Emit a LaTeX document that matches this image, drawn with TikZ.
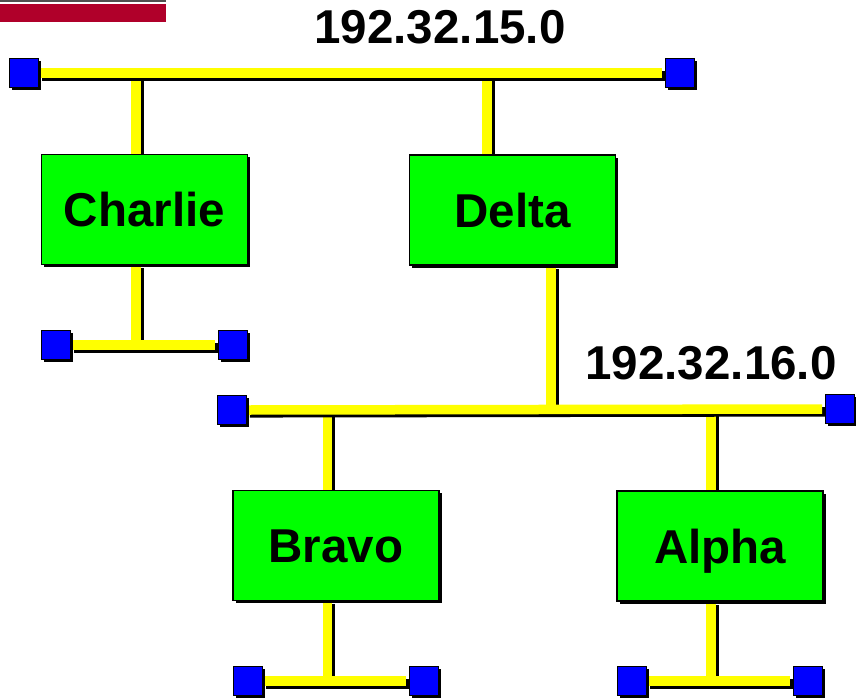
\documentclass[tikz,border=0pt]{standalone}
\usepackage{fontspec}
\setmainfont{Liberation Sans}
\usetikzlibrary{shadows}
\definecolor{busyellow}{HTML}{FFFF00}
\definecolor{boxgreen}{HTML}{00FF00}
\definecolor{termblue}{HTML}{0000FF}
\definecolor{barred}{HTML}{B0002A}
\definecolor{bargray}{HTML}{505050}
\tikzset{
  hostbox/.style={draw=black, line width=1.5pt, fill=boxgreen, minimum width=206pt, minimum height=110pt,
    inner sep=0pt, text height=34pt, text depth=0pt, font=\fontsize{47.5}{56}\selectfont\bfseries,
    drop shadow={shadow xshift=2.5pt, shadow yshift=-2.5pt, fill=black, opacity=1}},
  term/.style={draw=black, line width=1pt, fill=termblue, minimum size=29pt, inner sep=0pt,
    drop shadow={shadow xshift=2pt, shadow yshift=-2pt, fill=black, opacity=1}},
  netlabel/.style={anchor=base, inner sep=0pt, font=\fontsize{47.5}{56}\selectfont\bfseries},
  wireshadow/.style={line width=9.5pt, black, transform canvas={shift={(2.8,2.8)}}},
  wire/.style={line width=9.5pt, busyellow},
}
\pgfdeclarelayer{wires}
\pgfsetlayers{wires,main}
\begin{document}
\begin{tikzpicture}[x=1pt, y=-1pt]
\useasboundingbox (0,0) rectangle (856,699);
% header bar
\fill[bargray] (0,0) rectangle (166,2);
\fill[barred] (0,4) rectangle (166,22);

% hosts
\node[hostbox] (charlie) at (144.5,209.5) {Charlie};
\node[hostbox] (delta) at (512.5,210) {Delta};
\node[hostbox] (bravo) at (336,545.5) {Bravo};
\node[hostbox] (alpha) at (720,546) {Alpha};

% terminators
\node[term] (t1a) at (24,73) {};
\node[term] (t1b) at (680,73) {};
\node[term] (c1) at (56,345) {};
\node[term] (c2) at (233,345) {};
\node[term] (t2a) at (232,410) {};
\node[term] (t2b) at (840,409) {};
\node[term] (b1) at (248,681) {};
\node[term] (b2) at (424,681) {};
\node[term] (a1) at (632,681) {};
\node[term] (a2) at (808,681) {};

% junctions on the buses
\coordinate (jc) at (136,73);
\coordinate (jd) at (487,73);
\coordinate (jcb) at (136,345);
\coordinate (jdb) at (551,409);
\coordinate (jb) at (327.5,409);
\coordinate (ja) at (711,409);
\coordinate (jbb) at (327.5,681);
\coordinate (jab) at (711,681);

% labels
\node[netlabel] (n15) at (440,43) {192.32.15.0};
\node[netlabel] (n16) at (711,379) {192.32.16.0};

% drops (drawn first), then buses, beneath boxes and terminators
\begin{pgfonlayer}{wires}
  \foreach \j/\h/\a in {jc/charlie/north, jd/delta/north, jcb/charlie/south, jdb/delta/south,
                        jb/bravo/north, ja/alpha/north, jbb/bravo/south, jab/alpha/south} {
    \draw[wireshadow] (\j) -- (\j |- \h.\a);
    \draw[wire] (\j) -- (\j |- \h.\a);
  }
  \foreach \l/\r in {t1a/t1b, c1/c2, t2a/t2b, b1/b2, a1/a2} {
    \draw[wireshadow] (\l.east) -- ([xshift=-3pt]\r.west);
    \draw[wire] (\l.east) -- ([xshift=-3pt]\r.west);
  }
\end{pgfonlayer}
\end{tikzpicture}
\end{document}
